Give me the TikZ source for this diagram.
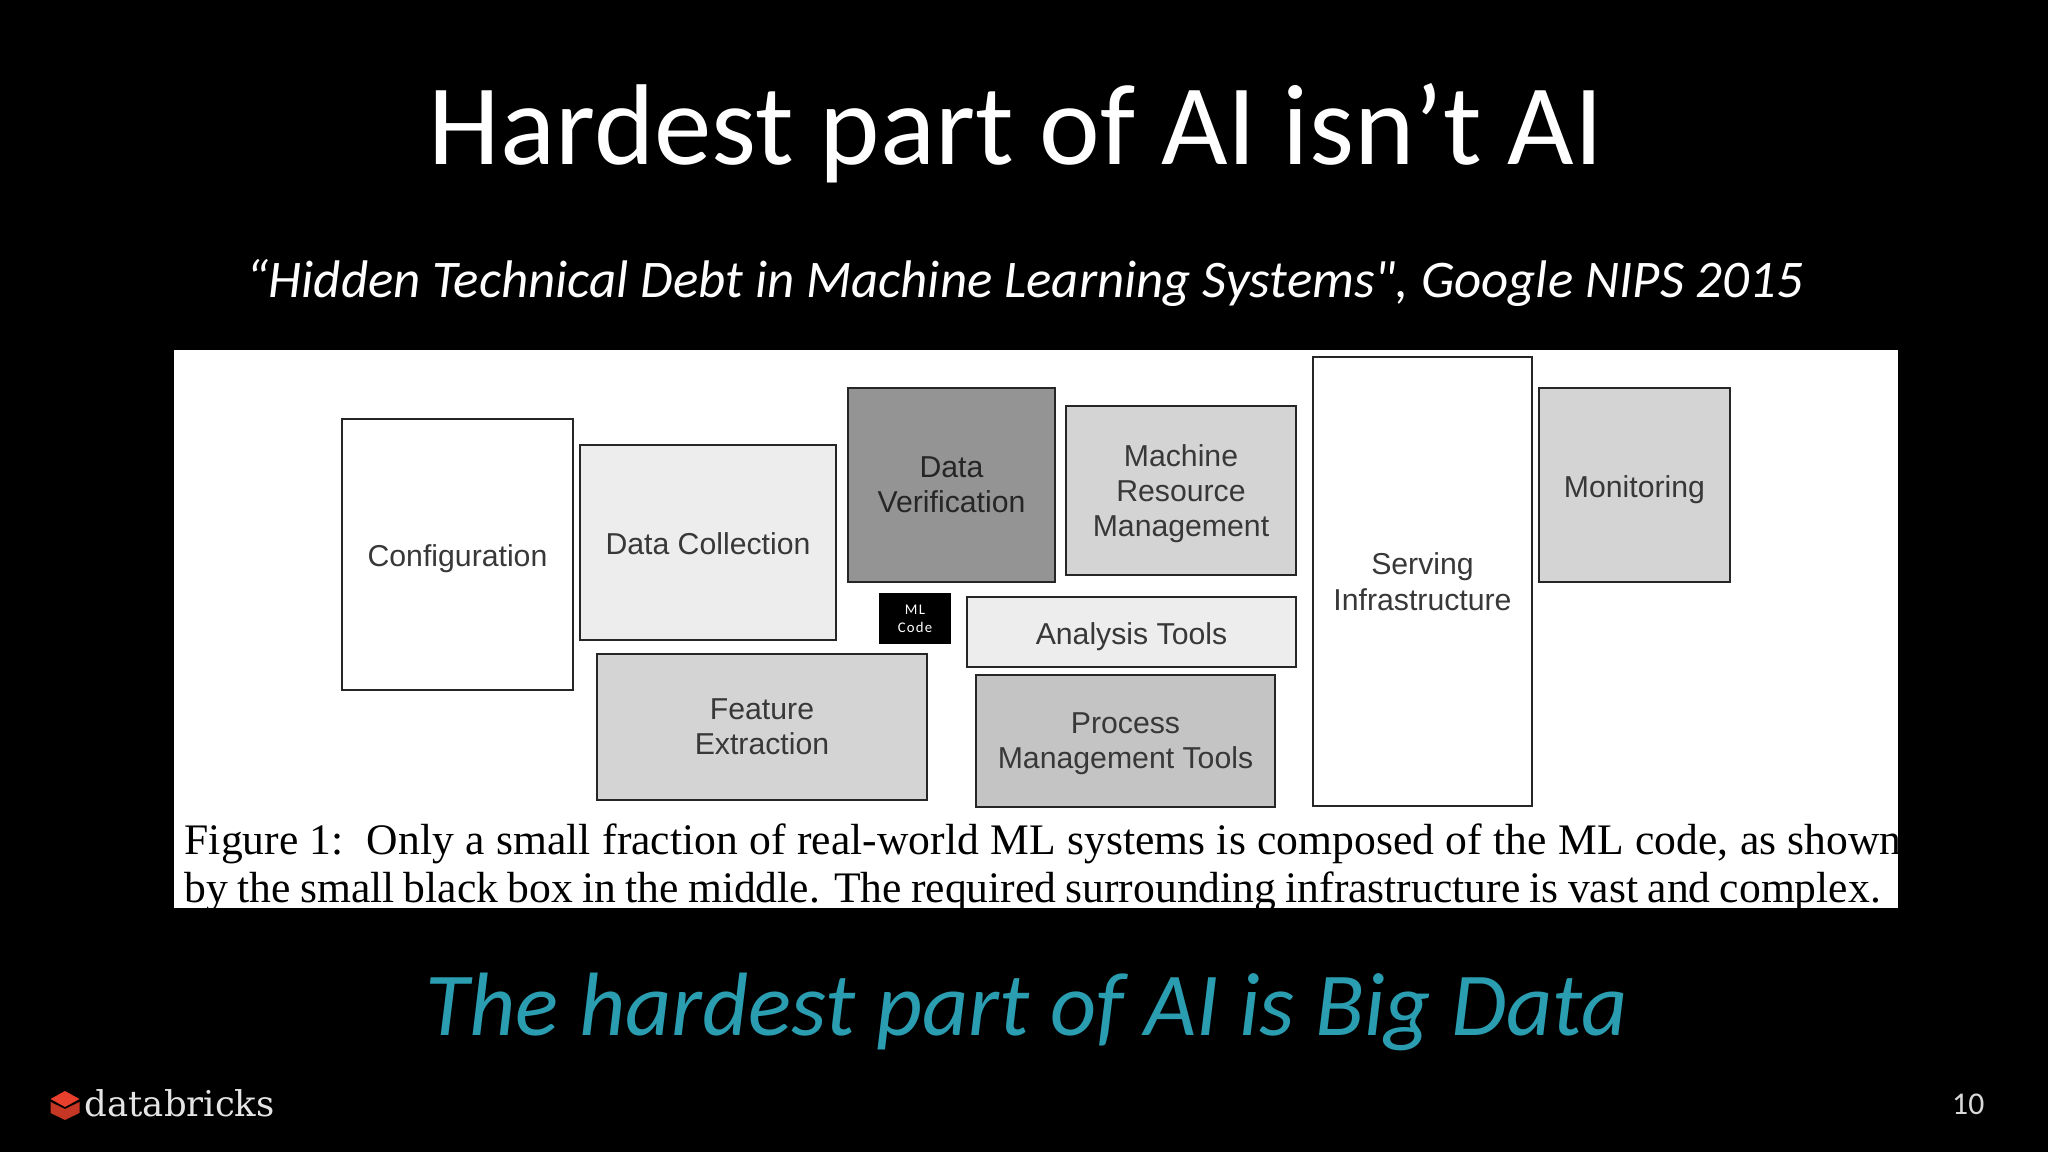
\documentclass[tikz,border=0pt]{standalone}
\usepackage{fontspec}
\setmainfont{Carlito}
\newfontfamily\slidefont{Carlito}
\newfontfamily\spacedfont[LetterSpace=8]{Carlito}
\newfontfamily\boxfont{Liberation Sans}
\newfontfamily\paperfont{Liberation Serif}
\newfontfamily\logofont{DejaVu Serif}
\usetikzlibrary{positioning}
\definecolor{tealtext}{HTML}{2A9DB0}
\definecolor{logored}{HTML}{E8402C}
\definecolor{boxtext}{HTML}{383838}

\begin{document}
\begin{tikzpicture}[
  mlbox/.style={rectangle, draw=black!85, line width=0.8pt, inner sep=0pt, align=center, text=boxtext, text depth=0pt, execute at begin node={\rule{0pt}{7pt}}, font=\boxfont\fontsize{8.6}{10}\selectfont},
  whitebox/.style={mlbox, fill=white},
  pale/.style={mlbox, fill=black!7},
  light/.style={mlbox, fill=black!17},
  midgray/.style={mlbox, fill=black!23},
  dark/.style={mlbox, fill=black!42, text=black!85},
  captionline/.style={anchor=base west, inner sep=0pt, text=black, font=\paperfont\fontsize{12.4}{14}\selectfont}
]
% slide background
\fill[black] (0,0) rectangle (20.48,11.52);
\fill[white] (1.74,2.44) rectangle (18.98,8.02);

% headings
\node[anchor=base, inner sep=0pt, text=white, font=\slidefont\fontsize{32.7}{36}\selectfont] (title) at (10.16,9.87) {Hardest part of AI isn’t AI};
\node[anchor=base, inner sep=0pt, text=white, font=\slidefont\itshape\fontsize{15.05}{18}\selectfont] (paper) at (10.25,8.54) {“Hidden Technical Debt in Machine Learning Systems", Google NIPS 2015};
\node[anchor=base, inner sep=0pt, text=tealtext, font=\slidefont\itshape\fontsize{25.6}{30}\selectfont] (claim) at (10.27,1.16) {The hardest part of AI is Big Data};

% boxes
\node[whitebox, minimum width=2.31cm, minimum height=2.71cm] (config) at (4.575,5.975) {Configuration};
\node[pale, minimum width=2.56cm, minimum height=1.95cm] (collect) at (7.08,6.095) {Data Collection};
\node[dark, minimum width=2.07cm, minimum height=1.94cm] (verify) at (9.515,6.67) {Data\\Verification};
\node[light, minimum width=2.30cm, minimum height=1.69cm] (machine) at (11.81,6.615) {Machine\\Resource\\Management};
\node[whitebox, minimum width=2.19cm, minimum height=4.49cm] (serving) at (14.225,5.705) {Serving\\Infrastructure};
\node[light, minimum width=1.91cm, minimum height=1.94cm] (monitor) at (16.345,6.67) {Monitoring};
\node[pale, minimum width=3.29cm, minimum height=0.70cm] (analysis) at (11.315,5.2) {Analysis Tools};
\node[light, minimum width=3.30cm, minimum height=1.46cm] (feature) at (7.62,4.25) {Feature\\Extraction};
\node[midgray, minimum width=2.99cm, minimum height=1.32cm] (process) at (11.255,4.11) {Process\\Management Tools};
\node[rectangle, fill=black, text=white, inner sep=0pt, align=center, minimum width=0.72cm, minimum height=0.51cm, execute at begin node={\rule{0pt}{4.2pt}}, text depth=0pt, font=\spacedfont\fontsize{4.2}{5}\selectfont] (mlcode) at (9.15,5.335) {ML\\Code};

% caption, cut off by the panel
\begin{scope}
\clip (1.74,2.44) rectangle (18.98,8.02);
\node[captionline] (line1) at (1.84,2.97) {\hbox to 17.17cm{Figure 1:\, Only a small fraction of real-world ML systems is composed of the ML code, as shown}};
\node[captionline] (line2) at (1.84,2.49) {\hbox to 16.96cm{by the small black box in the middle. The required surrounding infrastructure is vast and complex.}};
\end{scope}

% logo
\fill[logored!85!black] (0.505,0.50) -- (0.65,0.43) -- (0.795,0.50) -- (0.795,0.39) -- (0.65,0.32) -- (0.505,0.39) -- cycle;
\fill[logored] (0.505,0.53) -- (0.65,0.61) -- (0.795,0.53) -- (0.65,0.45) -- cycle;
\node[anchor=base west, inner sep=0pt, text=white!90!black, font=\logofont\fontsize{10.1}{12}\selectfont] (logo) at (0.84,0.35) {databricks};
\node[anchor=base east, inner sep=0pt, text=white!85!black, font=\slidefont\fontsize{9}{11}\selectfont] (page) at (19.85,0.37) {10};
\end{tikzpicture}
\end{document}
